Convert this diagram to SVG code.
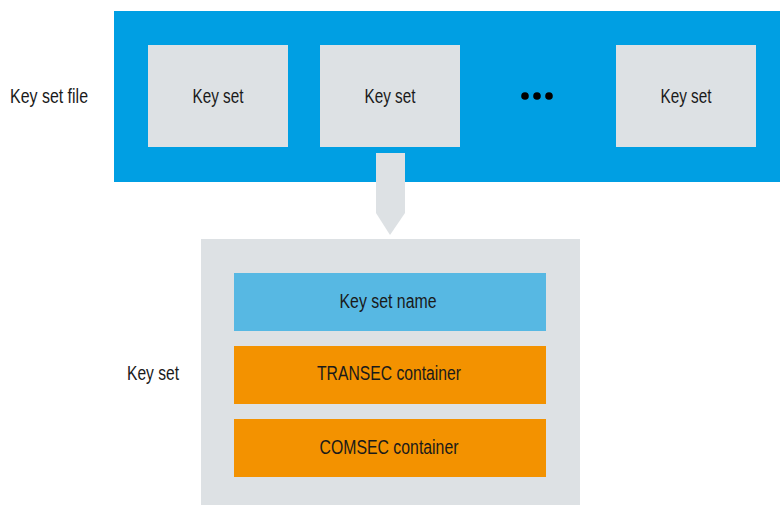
<svg xmlns="http://www.w3.org/2000/svg" width="780" height="505" viewBox="0 0 780 505">
  <style>
    .lbl { font-family: "Liberation Sans", Arial, sans-serif; font-size: 20px; fill: #1a1a1a; font-stretch: condensed; }
    .mid { text-anchor: middle; }
    .panel { fill: #dde1e4; }
  </style>
  <rect width="780" height="505" fill="#ffffff"/>

  <!-- key set file strip -->
  <g id="key-set-file">
    <rect x="114" y="11" width="666" height="171" fill="#009fe3"/>
    <text class="lbl" x="10" y="103" textLength="78" lengthAdjust="spacingAndGlyphs">Key set file</text>
  </g>
  <g id="key-set-1">
    <rect class="panel" x="148" y="45" width="140" height="102"/>
    <text class="lbl mid" x="218" y="103" textLength="51" lengthAdjust="spacingAndGlyphs">Key set</text>
  </g>
  <g id="key-set-2">
    <rect class="panel" x="320" y="45" width="140" height="102"/>
    <text class="lbl mid" x="390" y="103" textLength="51" lengthAdjust="spacingAndGlyphs">Key set</text>
  </g>
  <g id="ellipsis" fill="#000000">
    <circle cx="525" cy="96" r="3.8"/>
    <circle cx="537" cy="96" r="3.8"/>
    <circle cx="549" cy="96" r="3.8"/>
  </g>
  <g id="key-set-n">
    <rect class="panel" x="616" y="45" width="140" height="102"/>
    <text class="lbl mid" x="686" y="103" textLength="51" lengthAdjust="spacingAndGlyphs">Key set</text>
  </g>

  <!-- expansion arrow -->
  <g id="connectors">
    <polygon class="panel" points="376,153 405,153 405,213 390,235 376,213"/>
  </g>

  <!-- key set detail -->
  <g id="key-set-detail">
    <rect class="panel" x="201" y="239" width="379" height="266"/>
    <text class="lbl" x="127" y="380" textLength="52" lengthAdjust="spacingAndGlyphs">Key set</text>
  </g>
  <g id="key-set-name">
    <rect x="234" y="273" width="312" height="58" fill="#57b8e3"/>
    <text class="lbl mid" x="388" y="308" textLength="97" lengthAdjust="spacingAndGlyphs">Key set name</text>
  </g>
  <g id="transec-container">
    <rect x="234" y="346" width="312" height="58" fill="#f39200"/>
    <text class="lbl mid" x="389" y="380" textLength="144" lengthAdjust="spacingAndGlyphs">TRANSEC container</text>
  </g>
  <g id="comsec-container">
    <rect x="234" y="419" width="312" height="58" fill="#f39200"/>
    <text class="lbl mid" x="389" y="454" textLength="139" lengthAdjust="spacingAndGlyphs">COMSEC container</text>
  </g>
</svg>
